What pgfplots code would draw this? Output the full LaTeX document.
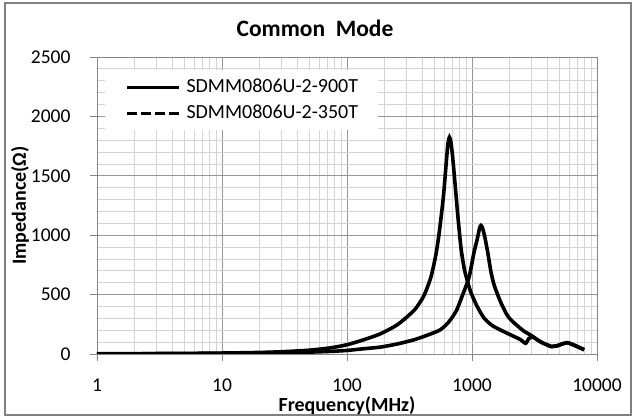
\documentclass[border=0pt]{standalone}
\usepackage{fontspec}
\setmainfont{Carlito}
\usepackage{pgfplots}
\pgfplotsset{compat=1.18}

\definecolor{majgrid}{RGB}{150,150,150}
\definecolor{mingrid}{RGB}{212,212,212}
\definecolor{axgray}{RGB}{134,134,134}
\definecolor{bordergray}{RGB}{128,128,128}

\begin{document}
\begin{tikzpicture}
\useasboundingbox (-97bp,-63bp) rectangle (538bp,354bp);
\draw[bordergray, line width=1.6bp] (-92bp,-61bp) rectangle (534bp,351bp);
\begin{axis}[
  at={(0,0)}, anchor=south west, scale only axis,
  width=500bp, height=297bp,
  xmode=log, xmin=1, xmax=10000, ymin=0, ymax=2500,
  xtick={1,10,100,1000,10000},
  xticklabels={1,10,100,1000,10000},
  ytick={0,500,1000,1500,2000,2500},
  yticklabels={0,500,1000,1500,2000,2500},
  minor ytick={100,200,300,400,600,700,800,900,1100,1200,1300,1400,1600,1700,1800,1900,2100,2200,2300,2400},
  grid=both,
  major grid style={majgrid, line width=0.8bp},
  minor grid style={mingrid, line width=0.8bp},
  axis line style={axgray, line width=0.9bp},
  tick style={axgray, line width=0.9bp},
  tickpos=left, tick align=outside,
  major tick length=7bp, minor tick length=0pt,
  /pgf/number format/assume math mode=true,
  ticklabel style={font=\fontsize{19.5bp}{23bp}\selectfont},
  yticklabel style={anchor=east, xshift=-16bp},
  xticklabel style={anchor=north, yshift=-14bp},
  title={Common\ \ Mode},
  title style={font=\bfseries\fontsize{23.5bp}{28bp}\selectfont, at={(axis description cs:0.436,1)}, anchor=center, yshift=23bp},
  xlabel={Frequency(MHz)},
  xlabel style={font=\bfseries\fontsize{20bp}{24bp}\selectfont, at={(axis description cs:0.5,0)}, anchor=center, yshift=-52bp},
  ylabel={Impedance(Ω)},
  ylabel style={font=\bfseries\fontsize{20bp}{24bp}\selectfont, at={(axis description cs:0,0.5)}, anchor=center, yshift=77bp},
  legend style={at={(axis description cs:0.016,0.956)}, anchor=north west,
    draw=none, fill=white, inner xsep=20bp, inner ysep=8bp,
    font=\fontsize{20bp}{24bp}\selectfont,
    nodes={inner sep=0pt, text height=14bp, text depth=4bp},
    column sep=6bp, row sep=8bp},
  legend cell align=left,
]
\addplot[black, line width=3.6bp, smooth, tension=0.4,
  legend image code/.code={\draw[black, line width=3.3bp] (0bp,0bp) -- (52bp,0bp);}]
 coordinates {
 (1,2) (2,3) (5,5) (10,8) (20,13) (30,19) (50,32) (74,52) (100,78) (138,122)
 (185,170) (254,248) (346,370) (412,490) (470,650) (515,840) (548,1030) (590,1320)
 (620,1590) (642,1770) (660,1825) (678,1785) (700,1660) (735,1410) (768,1180)
 (817,890) (870,710) (930,595) (982,515) (1100,400) (1254,300) (1450,240)
 (1706,200) (2000,165) (2300,135) (2466,118) (2690,90) (2860,132) (3100,140)
 (3500,105) (4000,75) (4270,62) (4800,68) (5300,85) (5800,95) (6600,72) (7900,36)
 };
\addlegendentry{SDMM0806U-2-900T}
\addplot[black, line width=3.6bp, smooth, tension=0.4,
  legend image code/.code={\draw[black, line width=3.3bp, dash pattern=on 10bp off 4bp] (0bp,0bp) -- (52bp,0bp);}]
 coordinates {
 (1,1) (2,1.5) (5,3) (10,5) (20,8) (30,11) (50,16) (74,22) (100,30) (138,45)
 (185,58) (254,85) (350,122) (470,170) (560,205) (650,268) (750,365) (861,525)
 (950,650) (1035,850) (1103,970) (1150,1060) (1180,1082) (1210,1065) (1260,995)
 (1334,860) (1419,690) (1509,575) (1706,430) (1930,320) (2182,260) (2620,190)
 (2966,158) (3350,118) (3700,92) (4034,76) (4300,64) (4800,70) (5300,86)
 (5800,95) (6600,74) (7900,36)
 };
\addlegendentry{SDMM0806U-2-350T}
\end{axis}
\end{tikzpicture}
\end{document}
